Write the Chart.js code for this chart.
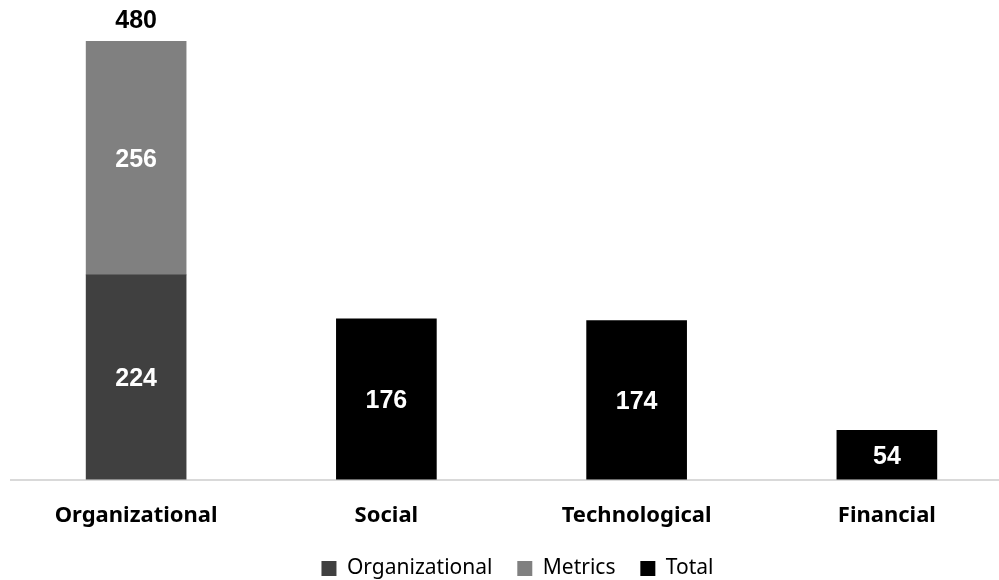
<!DOCTYPE html>
<html>
<head>
<meta charset="utf-8">
<script src="https://cdn.jsdelivr.net/npm/chart.js@4"></script>
<style>
  html, body { margin: 0; padding: 0; background: #fff; overflow: hidden; }
  #wrap { width: 999px; height: 580px; overflow: hidden; position: relative; }
  #box { width: 1012px; height: 580px; position: absolute; left: 0; top: 0; }
</style>
</head>
<body>
<div id="wrap"><div id="box"><canvas id="myChart"></canvas></div></div>
<script>
// datos del grafico
const categorias = ['Organizational', 'Social', 'Technological', 'Financial'];
const organizacional = [224, null, null, null];
const metricas = [256, null, null, null];
const total = [null, 176, 174, 54];

// etiquetas dentro de las barras y total arriba
const etiquetas = {
  id: 'etiquetas',
  afterDatasetsDraw(chart) {
    const ctx = chart.ctx;
    ctx.save();
    ctx.textAlign = 'center';
    ctx.textBaseline = 'middle';
    ctx.font = 'bold 25px "Liberation Sans", Arial, sans-serif';
    chart.data.datasets.forEach((ds, i) => {
      const meta = chart.getDatasetMeta(i);
      meta.data.forEach((bar, j) => {
        const v = ds.data[j];
        if (v == null) return;
        ctx.fillStyle = '#ffffff';
        ctx.fillText(v, bar.x, (bar.y + bar.base) / 2 + 2);
      });
    });
    // suma del apilado
    categorias.forEach((c, j) => {
      const a = organizacional[j], b = metricas[j];
      if (a == null || b == null) return;
      const bar = chart.getDatasetMeta(1).data[j];
      ctx.fillStyle = '#000000';
      ctx.fillText(a + b, bar.x, bar.y - 20);
    });
    ctx.restore();
  }
};

// bajar un poco la leyenda
const moverLeyenda = {
  id: 'moverLeyenda',
  afterLayout(chart) {
    const l = chart.legend;
    if (!l) return;
    l.top += 9; l.bottom += 9;
    l.left += 6; l.right += 6;
  }
};

const ctx = document.getElementById('myChart').getContext('2d');
const myChart = new Chart(ctx, {
  type: 'bar',
  data: {
    labels: categorias,
    datasets: [
      { label: 'Organizational', data: organizacional, backgroundColor: '#404040', barThickness: 100 },
      { label: 'Metrics', data: metricas, backgroundColor: '#808080', barThickness: 100 },
      { label: 'Total', data: total, backgroundColor: '#000000', barThickness: 100 }
    ]
  },
  options: {
    responsive: true,
    maintainAspectRatio: false,
    animation: false,
    layout: { padding: { top: 41, left: 11, right: 0, bottom: 0 } },
    plugins: {
      tooltip: { enabled: false },
      legend: {
        position: 'bottom',
        labels: {
          boxWidth: 15,
          boxHeight: 15,
          padding: 3,
          color: '#000',
          font: { family: '"Noto Sans", sans-serif', size: 21 },
          generateLabels(chart) {
            const items = Chart.defaults.plugins.legend.labels.generateLabels(chart);
            items.forEach((it, i) => {
              if (i < items.length - 1) it.text = it.text + '\u00a0\u00a0\u00a0\u00a0';
            });
            return items;
          }
        }
      }
    },
    scales: {
      x: {
        stacked: true,
        grid: { display: false },
        border: { color: '#d9d9d9', width: 2 },
        ticks: {
          color: '#000',
          padding: 15,
          font: { family: '"Noto Sans", sans-serif', size: 22, weight: 'bold' }
        },
        afterFit(scale) { scale.height += 2; }
      },
      y: {
        stacked: true,
        display: false,
        min: 0,
        max: 480
      }
    }
  },
  plugins: [etiquetas, moverLeyenda]
});
</script>
</body>
</html>
